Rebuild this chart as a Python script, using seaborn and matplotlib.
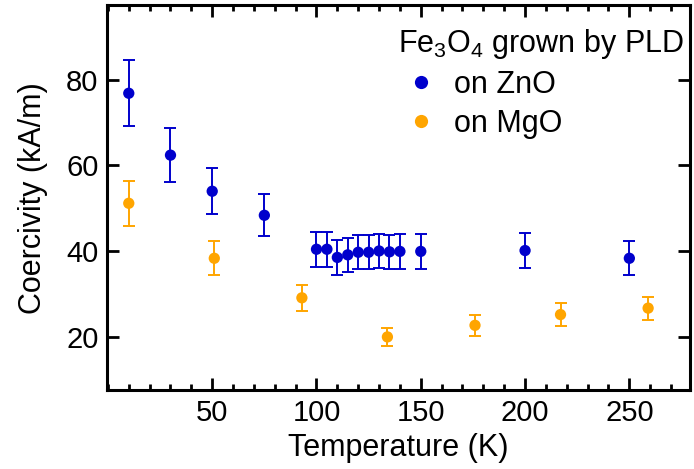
import matplotlib
matplotlib.use("Agg")
import matplotlib.pyplot as plt
import seaborn as sns
import pandas as pd
import numpy as np
from matplotlib.ticker import MultipleLocator
from matplotlib.lines import Line2D

# Data
zno_T = [10, 30, 50, 75, 100, 105, 110, 115, 120, 125, 130, 135, 140, 150, 200, 250]
zno_Hc = [76.8, 62.4, 54.0, 48.4, 40.5, 40.5, 38.6, 39.2, 39.8, 39.8, 40.1, 39.9, 40.0, 40.0, 40.2, 38.4]
zno_err = [7.7, 6.3, 5.4, 4.9, 4.1, 4.1, 4.0, 4.0, 4.0, 4.0, 4.0, 4.0, 4.0, 4.0, 4.1, 4.0]

mgo_T = [10, 51, 93, 134, 176, 217, 259]
mgo_Hc = [51.2, 38.4, 29.2, 20.1, 22.8, 25.3, 26.8]
mgo_err = [5.2, 4.0, 3.0, 2.0, 2.4, 2.6, 2.7]

labels = ["on ZnO", "on MgO"]
colors = ["#0000CC", "#FFA500"]
legend_title = "Fe$_3$O$_4$ grown by PLD"

sns.set_theme(style="ticks", rc={"axes.edgecolor": "black", "xtick.color": "black",
                                 "ytick.color": "black", "text.color": "black",
                                 "axes.labelcolor": "black"})
plt.rcParams['font.family'] = ['Liberation Sans', 'DejaVu Sans']
plt.rcParams['mathtext.fontset'] = 'custom'
plt.rcParams['mathtext.rm'] = 'Liberation Sans'
plt.rcParams['mathtext.it'] = 'Liberation Sans'

df = pd.concat([
    pd.DataFrame({"T": zno_T, "Hc": zno_Hc, "err": zno_err, "sub": labels[0]}),
    pd.DataFrame({"T": mgo_T, "Hc": mgo_Hc, "err": mgo_err, "sub": labels[1]}),
], ignore_index=True)

fig = plt.figure(figsize=(6.94, 4.69), dpi=100)
ax = fig.add_axes([0.154, 0.168, 0.840, 0.821])

for lab, col in zip(labels, colors):
    d = df[df["sub"] == lab]
    ax.errorbar(d["T"], d["Hc"], yerr=d["err"], fmt="none", ecolor=col,
                elinewidth=1.4, capsize=4.0, capthick=1.4, zorder=2)

sns.scatterplot(data=df, x="T", y="Hc", hue="sub", palette=colors,
                s=66, edgecolor="none", linewidth=0, ax=ax, legend=False, zorder=3)

ax.set_xlim(-0.5, 279)
ax.set_ylim(7.7, 97.3)
ax.xaxis.set_minor_locator(MultipleLocator(10))
ax.set_xticks([50, 100, 150, 200, 250])
ax.set_yticks([20, 40, 60, 80])

ax.tick_params(axis="both", which="major", direction="in", length=8.5, width=2.0,
               labelsize=21, top=True, right=True, pad=6)
ax.tick_params(axis="x", which="minor", direction="in", length=4.5, width=2.0,
               top=True, bottom=True)
for sp in ax.spines.values():
    sp.set_linewidth(2.2)
    sp.set_color("black")
    sp.set_visible(True)

ax.set_xlabel("Temperature (K)", fontsize=22, labelpad=5)
ax.set_ylabel("Coercivity (kA/m)", fontsize=22, labelpad=13)

handles = [Line2D([], [], marker="o", linestyle="none", markersize=9.5,
                  markerfacecolor=c, markeredgecolor="none") for c in colors]
leg = ax.legend(handles, labels, title=legend_title, loc="upper right",
                bbox_to_anchor=(1.0, 0.958), frameon=False, fontsize=22,
                title_fontsize=22, handletextpad=0.35, labelspacing=0.28,
                borderpad=0.1, handlelength=1.5, borderaxespad=0.1)
leg._legend_box.align = "left"

fig.savefig("out.png", dpi=100)
